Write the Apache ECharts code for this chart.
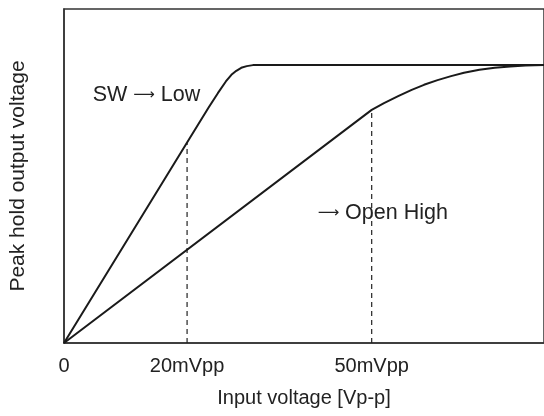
<!DOCTYPE html>
<html>
<head>
<meta charset="utf-8">
<script src="https://cdn.jsdelivr.net/npm/echarts@6/dist/echarts.min.js"></script>
<style>
html,body{margin:0;padding:0;background:#fff;}
#main{width:544px;height:416px;}
</style>
</head>
<body>
<div id="main"></div>
<script>
// Data (x: input mVpp, y: relative output, 0-100 scale of plot height)
const xTicks = [0, 20, 50];
const lowCurve = [[0,0],[20,60],[23.5,70.5],[25,74.8],[26.3,78.3],[27.2,80.3],[28,81.5],[28.8,82.4],[29.7,82.9],[30.7,83.2],[78,83.2]];
const highCurve = [[0,0],[50,69.8],[52,71.8],[54.3,73.9],[56.5,75.8],[58.5,77.3],[60.7,78.7],[62.9,79.9],[65,80.9],[67.5,81.8],[70,82.4],[72.5,82.8],[75,83.1],[78,83.2]];
const guideX = [20, 50];
const guideY = [60, 69.8];
const annotations = [
  {pre: 'SW ', post: ' Low', x: 13.4, y: 74.3},
  {pre: '', post: ' Open High', x: 51.8, y: 39.0}
];

const FONT = '"Liberation Sans", Arial, Helvetica, sans-serif';
const FS = 20;
const chart = echarts.init(document.getElementById('main'));

const series = [
  {type:'line', data: lowCurve, showSymbol:false,
   lineStyle:{color:'#1a1a1a', width:2, join:'round'}, z:3, silent:true},
  {type:'line', data: highCurve, showSymbol:false,
   lineStyle:{color:'#1a1a1a', width:2, join:'round'}, z:3, silent:true}
];
guideX.forEach((gx, i) => {
  series.push({type:'line', data:[[gx,0],[gx,guideY[i]]], showSymbol:false,
    lineStyle:{color:'#222', width:1.2, type:[5,4]}, z:2, silent:true});
});

chart.setOption({
  animation:false,
  backgroundColor:'#fff',
  grid:{left:63, right:-2, top:9, bottom:73, show:true, borderColor:'#333', borderWidth:1.5},
  xAxis:{type:'value', min:0, max:78,
    name:'Input voltage [Vp-p]', nameLocation:'middle', nameGap:45,
    nameTextStyle:{fontFamily:FONT, fontSize:FS, color:'#222'},
    axisLine:{show:true, lineStyle:{color:'#333', width:1.5}},
    axisTick:{show:false},
    splitLine:{show:false},
    axisLabel:{customValues:xTicks, margin:13, fontFamily:FONT, fontSize:FS, color:'#222',
      formatter:v => v === 0 ? '0' : v + 'mVpp'}
  },
  yAxis:{type:'value', min:0, max:100,
    name:'Peak hold output voltage', nameLocation:'middle', nameGap:35,
    nameTextStyle:{fontFamily:FONT, fontSize:21, color:'#222'},
    axisLine:{show:true, lineStyle:{color:'#333', width:1.5}},
    axisTick:{show:false}, axisLabel:{show:false}, splitLine:{show:false}
  },
  series: series
});

chart.setOption({
  graphic: annotations.map(a => {
    const p = chart.convertToPixel({gridIndex:0}, [a.x, a.y]);
    return {type:'text', x:p[0], y:p[1], silent:true,
      style:{text: a.pre + '{ar|\u27F6}' + a.post, fontFamily:FONT, fontSize:21.5, fill:'#222',
        align:'center', verticalAlign:'middle',
        rich:{ar:{fontFamily:'"DejaVu Sans"', fontSize:15, fill:'#222'}}}};
  })
});
</script>
</body>
</html>
